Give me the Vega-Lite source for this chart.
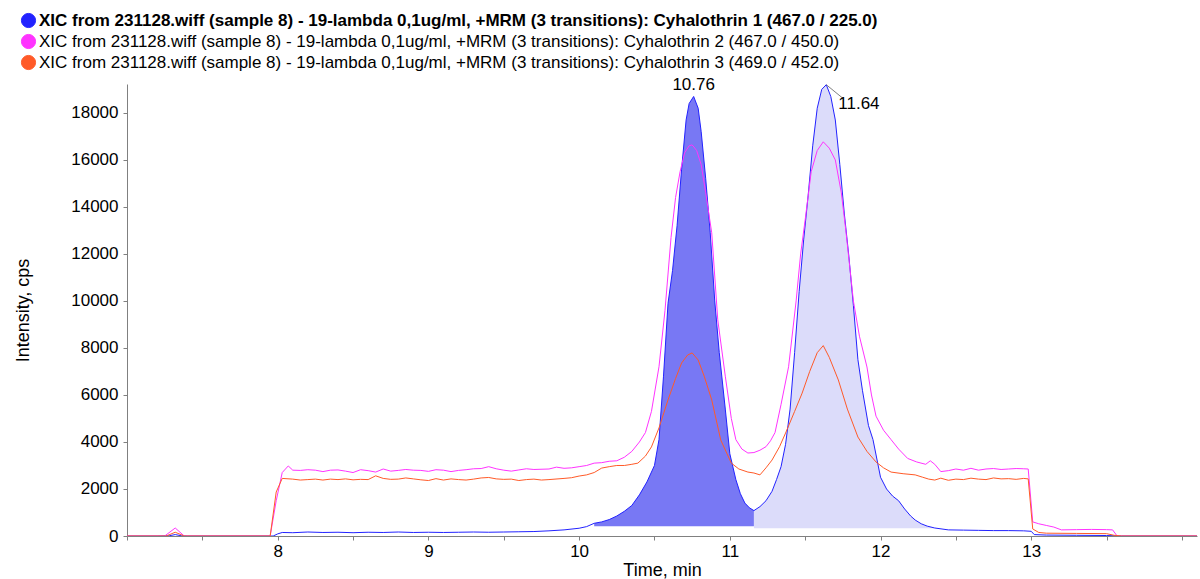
{
  "$schema": "https://vega.github.io/schema/vega-lite/v6.json",
  "autosize": "none",
  "width": 1070,
  "height": 452,
  "padding": {"left": 127, "top": 84, "right": 3, "bottom": 43},
  "background": "white",
  "config": {
    "view": {"stroke": null},
    "font": "Liberation Sans",
    "axis": {"labelFont": "Liberation Sans", "titleFont": "Liberation Sans", "labelColor": "black", "titleColor": "black", "domainColor": "#808080", "tickColor": "#808080", "grid": false, "titleFontWeight": "normal"}
  },
  "datasets": {
    "traces": [
      {"t": 7.00, "v": 0, "s": "XIC from 231128.wiff (sample 8) - 19-lambda 0,1ug/ml, +MRM (3 transitions): Cyhalothrin 1 (467.0 / 225.0)"},
      {"t": 7.20, "v": 0, "s": "XIC from 231128.wiff (sample 8) - 19-lambda 0,1ug/ml, +MRM (3 transitions): Cyhalothrin 1 (467.0 / 225.0)"},
      {"t": 7.28, "v": 10, "s": "XIC from 231128.wiff (sample 8) - 19-lambda 0,1ug/ml, +MRM (3 transitions): Cyhalothrin 1 (467.0 / 225.0)"},
      {"t": 7.32, "v": 60, "s": "XIC from 231128.wiff (sample 8) - 19-lambda 0,1ug/ml, +MRM (3 transitions): Cyhalothrin 1 (467.0 / 225.0)"},
      {"t": 7.36, "v": 10, "s": "XIC from 231128.wiff (sample 8) - 19-lambda 0,1ug/ml, +MRM (3 transitions): Cyhalothrin 1 (467.0 / 225.0)"},
      {"t": 7.40, "v": 0, "s": "XIC from 231128.wiff (sample 8) - 19-lambda 0,1ug/ml, +MRM (3 transitions): Cyhalothrin 1 (467.0 / 225.0)"},
      {"t": 7.97, "v": 0, "s": "XIC from 231128.wiff (sample 8) - 19-lambda 0,1ug/ml, +MRM (3 transitions): Cyhalothrin 1 (467.0 / 225.0)"},
      {"t": 8.00, "v": 90, "s": "XIC from 231128.wiff (sample 8) - 19-lambda 0,1ug/ml, +MRM (3 transitions): Cyhalothrin 1 (467.0 / 225.0)"},
      {"t": 8.03, "v": 150, "s": "XIC from 231128.wiff (sample 8) - 19-lambda 0,1ug/ml, +MRM (3 transitions): Cyhalothrin 1 (467.0 / 225.0)"},
      {"t": 8.10, "v": 140, "s": "XIC from 231128.wiff (sample 8) - 19-lambda 0,1ug/ml, +MRM (3 transitions): Cyhalothrin 1 (467.0 / 225.0)"},
      {"t": 8.20, "v": 170, "s": "XIC from 231128.wiff (sample 8) - 19-lambda 0,1ug/ml, +MRM (3 transitions): Cyhalothrin 1 (467.0 / 225.0)"},
      {"t": 8.30, "v": 150, "s": "XIC from 231128.wiff (sample 8) - 19-lambda 0,1ug/ml, +MRM (3 transitions): Cyhalothrin 1 (467.0 / 225.0)"},
      {"t": 8.40, "v": 160, "s": "XIC from 231128.wiff (sample 8) - 19-lambda 0,1ug/ml, +MRM (3 transitions): Cyhalothrin 1 (467.0 / 225.0)"},
      {"t": 8.50, "v": 140, "s": "XIC from 231128.wiff (sample 8) - 19-lambda 0,1ug/ml, +MRM (3 transitions): Cyhalothrin 1 (467.0 / 225.0)"},
      {"t": 8.60, "v": 160, "s": "XIC from 231128.wiff (sample 8) - 19-lambda 0,1ug/ml, +MRM (3 transitions): Cyhalothrin 1 (467.0 / 225.0)"},
      {"t": 8.70, "v": 150, "s": "XIC from 231128.wiff (sample 8) - 19-lambda 0,1ug/ml, +MRM (3 transitions): Cyhalothrin 1 (467.0 / 225.0)"},
      {"t": 8.80, "v": 170, "s": "XIC from 231128.wiff (sample 8) - 19-lambda 0,1ug/ml, +MRM (3 transitions): Cyhalothrin 1 (467.0 / 225.0)"},
      {"t": 8.90, "v": 150, "s": "XIC from 231128.wiff (sample 8) - 19-lambda 0,1ug/ml, +MRM (3 transitions): Cyhalothrin 1 (467.0 / 225.0)"},
      {"t": 9.00, "v": 160, "s": "XIC from 231128.wiff (sample 8) - 19-lambda 0,1ug/ml, +MRM (3 transitions): Cyhalothrin 1 (467.0 / 225.0)"},
      {"t": 9.10, "v": 150, "s": "XIC from 231128.wiff (sample 8) - 19-lambda 0,1ug/ml, +MRM (3 transitions): Cyhalothrin 1 (467.0 / 225.0)"},
      {"t": 9.20, "v": 160, "s": "XIC from 231128.wiff (sample 8) - 19-lambda 0,1ug/ml, +MRM (3 transitions): Cyhalothrin 1 (467.0 / 225.0)"},
      {"t": 9.30, "v": 170, "s": "XIC from 231128.wiff (sample 8) - 19-lambda 0,1ug/ml, +MRM (3 transitions): Cyhalothrin 1 (467.0 / 225.0)"},
      {"t": 9.40, "v": 160, "s": "XIC from 231128.wiff (sample 8) - 19-lambda 0,1ug/ml, +MRM (3 transitions): Cyhalothrin 1 (467.0 / 225.0)"},
      {"t": 9.50, "v": 170, "s": "XIC from 231128.wiff (sample 8) - 19-lambda 0,1ug/ml, +MRM (3 transitions): Cyhalothrin 1 (467.0 / 225.0)"},
      {"t": 9.60, "v": 180, "s": "XIC from 231128.wiff (sample 8) - 19-lambda 0,1ug/ml, +MRM (3 transitions): Cyhalothrin 1 (467.0 / 225.0)"},
      {"t": 9.70, "v": 190, "s": "XIC from 231128.wiff (sample 8) - 19-lambda 0,1ug/ml, +MRM (3 transitions): Cyhalothrin 1 (467.0 / 225.0)"},
      {"t": 9.80, "v": 220, "s": "XIC from 231128.wiff (sample 8) - 19-lambda 0,1ug/ml, +MRM (3 transitions): Cyhalothrin 1 (467.0 / 225.0)"},
      {"t": 9.90, "v": 260, "s": "XIC from 231128.wiff (sample 8) - 19-lambda 0,1ug/ml, +MRM (3 transitions): Cyhalothrin 1 (467.0 / 225.0)"},
      {"t": 10.00, "v": 330, "s": "XIC from 231128.wiff (sample 8) - 19-lambda 0,1ug/ml, +MRM (3 transitions): Cyhalothrin 1 (467.0 / 225.0)"},
      {"t": 10.05, "v": 400, "s": "XIC from 231128.wiff (sample 8) - 19-lambda 0,1ug/ml, +MRM (3 transitions): Cyhalothrin 1 (467.0 / 225.0)"},
      {"t": 10.10, "v": 540, "s": "XIC from 231128.wiff (sample 8) - 19-lambda 0,1ug/ml, +MRM (3 transitions): Cyhalothrin 1 (467.0 / 225.0)"},
      {"t": 10.15, "v": 600, "s": "XIC from 231128.wiff (sample 8) - 19-lambda 0,1ug/ml, +MRM (3 transitions): Cyhalothrin 1 (467.0 / 225.0)"},
      {"t": 10.20, "v": 700, "s": "XIC from 231128.wiff (sample 8) - 19-lambda 0,1ug/ml, +MRM (3 transitions): Cyhalothrin 1 (467.0 / 225.0)"},
      {"t": 10.25, "v": 850, "s": "XIC from 231128.wiff (sample 8) - 19-lambda 0,1ug/ml, +MRM (3 transitions): Cyhalothrin 1 (467.0 / 225.0)"},
      {"t": 10.30, "v": 1050, "s": "XIC from 231128.wiff (sample 8) - 19-lambda 0,1ug/ml, +MRM (3 transitions): Cyhalothrin 1 (467.0 / 225.0)"},
      {"t": 10.35, "v": 1300, "s": "XIC from 231128.wiff (sample 8) - 19-lambda 0,1ug/ml, +MRM (3 transitions): Cyhalothrin 1 (467.0 / 225.0)"},
      {"t": 10.40, "v": 1750, "s": "XIC from 231128.wiff (sample 8) - 19-lambda 0,1ug/ml, +MRM (3 transitions): Cyhalothrin 1 (467.0 / 225.0)"},
      {"t": 10.45, "v": 2300, "s": "XIC from 231128.wiff (sample 8) - 19-lambda 0,1ug/ml, +MRM (3 transitions): Cyhalothrin 1 (467.0 / 225.0)"},
      {"t": 10.50, "v": 3000, "s": "XIC from 231128.wiff (sample 8) - 19-lambda 0,1ug/ml, +MRM (3 transitions): Cyhalothrin 1 (467.0 / 225.0)"},
      {"t": 10.53, "v": 4100, "s": "XIC from 231128.wiff (sample 8) - 19-lambda 0,1ug/ml, +MRM (3 transitions): Cyhalothrin 1 (467.0 / 225.0)"},
      {"t": 10.56, "v": 6800, "s": "XIC from 231128.wiff (sample 8) - 19-lambda 0,1ug/ml, +MRM (3 transitions): Cyhalothrin 1 (467.0 / 225.0)"},
      {"t": 10.59, "v": 9900, "s": "XIC from 231128.wiff (sample 8) - 19-lambda 0,1ug/ml, +MRM (3 transitions): Cyhalothrin 1 (467.0 / 225.0)"},
      {"t": 10.62, "v": 11300, "s": "XIC from 231128.wiff (sample 8) - 19-lambda 0,1ug/ml, +MRM (3 transitions): Cyhalothrin 1 (467.0 / 225.0)"},
      {"t": 10.65, "v": 13200, "s": "XIC from 231128.wiff (sample 8) - 19-lambda 0,1ug/ml, +MRM (3 transitions): Cyhalothrin 1 (467.0 / 225.0)"},
      {"t": 10.68, "v": 15600, "s": "XIC from 231128.wiff (sample 8) - 19-lambda 0,1ug/ml, +MRM (3 transitions): Cyhalothrin 1 (467.0 / 225.0)"},
      {"t": 10.71, "v": 17700, "s": "XIC from 231128.wiff (sample 8) - 19-lambda 0,1ug/ml, +MRM (3 transitions): Cyhalothrin 1 (467.0 / 225.0)"},
      {"t": 10.73, "v": 18400, "s": "XIC from 231128.wiff (sample 8) - 19-lambda 0,1ug/ml, +MRM (3 transitions): Cyhalothrin 1 (467.0 / 225.0)"},
      {"t": 10.76, "v": 18700, "s": "XIC from 231128.wiff (sample 8) - 19-lambda 0,1ug/ml, +MRM (3 transitions): Cyhalothrin 1 (467.0 / 225.0)"},
      {"t": 10.79, "v": 18200, "s": "XIC from 231128.wiff (sample 8) - 19-lambda 0,1ug/ml, +MRM (3 transitions): Cyhalothrin 1 (467.0 / 225.0)"},
      {"t": 10.81, "v": 17200, "s": "XIC from 231128.wiff (sample 8) - 19-lambda 0,1ug/ml, +MRM (3 transitions): Cyhalothrin 1 (467.0 / 225.0)"},
      {"t": 10.84, "v": 15200, "s": "XIC from 231128.wiff (sample 8) - 19-lambda 0,1ug/ml, +MRM (3 transitions): Cyhalothrin 1 (467.0 / 225.0)"},
      {"t": 10.87, "v": 12900, "s": "XIC from 231128.wiff (sample 8) - 19-lambda 0,1ug/ml, +MRM (3 transitions): Cyhalothrin 1 (467.0 / 225.0)"},
      {"t": 10.90, "v": 10000, "s": "XIC from 231128.wiff (sample 8) - 19-lambda 0,1ug/ml, +MRM (3 transitions): Cyhalothrin 1 (467.0 / 225.0)"},
      {"t": 10.93, "v": 7800, "s": "XIC from 231128.wiff (sample 8) - 19-lambda 0,1ug/ml, +MRM (3 transitions): Cyhalothrin 1 (467.0 / 225.0)"},
      {"t": 10.97, "v": 5400, "s": "XIC from 231128.wiff (sample 8) - 19-lambda 0,1ug/ml, +MRM (3 transitions): Cyhalothrin 1 (467.0 / 225.0)"},
      {"t": 11.00, "v": 3500, "s": "XIC from 231128.wiff (sample 8) - 19-lambda 0,1ug/ml, +MRM (3 transitions): Cyhalothrin 1 (467.0 / 225.0)"},
      {"t": 11.04, "v": 2400, "s": "XIC from 231128.wiff (sample 8) - 19-lambda 0,1ug/ml, +MRM (3 transitions): Cyhalothrin 1 (467.0 / 225.0)"},
      {"t": 11.07, "v": 1800, "s": "XIC from 231128.wiff (sample 8) - 19-lambda 0,1ug/ml, +MRM (3 transitions): Cyhalothrin 1 (467.0 / 225.0)"},
      {"t": 11.10, "v": 1400, "s": "XIC from 231128.wiff (sample 8) - 19-lambda 0,1ug/ml, +MRM (3 transitions): Cyhalothrin 1 (467.0 / 225.0)"},
      {"t": 11.13, "v": 1200, "s": "XIC from 231128.wiff (sample 8) - 19-lambda 0,1ug/ml, +MRM (3 transitions): Cyhalothrin 1 (467.0 / 225.0)"},
      {"t": 11.16, "v": 1080, "s": "XIC from 231128.wiff (sample 8) - 19-lambda 0,1ug/ml, +MRM (3 transitions): Cyhalothrin 1 (467.0 / 225.0)"},
      {"t": 11.20, "v": 1250, "s": "XIC from 231128.wiff (sample 8) - 19-lambda 0,1ug/ml, +MRM (3 transitions): Cyhalothrin 1 (467.0 / 225.0)"},
      {"t": 11.24, "v": 1500, "s": "XIC from 231128.wiff (sample 8) - 19-lambda 0,1ug/ml, +MRM (3 transitions): Cyhalothrin 1 (467.0 / 225.0)"},
      {"t": 11.28, "v": 1900, "s": "XIC from 231128.wiff (sample 8) - 19-lambda 0,1ug/ml, +MRM (3 transitions): Cyhalothrin 1 (467.0 / 225.0)"},
      {"t": 11.31, "v": 2400, "s": "XIC from 231128.wiff (sample 8) - 19-lambda 0,1ug/ml, +MRM (3 transitions): Cyhalothrin 1 (467.0 / 225.0)"},
      {"t": 11.34, "v": 2950, "s": "XIC from 231128.wiff (sample 8) - 19-lambda 0,1ug/ml, +MRM (3 transitions): Cyhalothrin 1 (467.0 / 225.0)"},
      {"t": 11.37, "v": 3900, "s": "XIC from 231128.wiff (sample 8) - 19-lambda 0,1ug/ml, +MRM (3 transitions): Cyhalothrin 1 (467.0 / 225.0)"},
      {"t": 11.40, "v": 5400, "s": "XIC from 231128.wiff (sample 8) - 19-lambda 0,1ug/ml, +MRM (3 transitions): Cyhalothrin 1 (467.0 / 225.0)"},
      {"t": 11.43, "v": 7800, "s": "XIC from 231128.wiff (sample 8) - 19-lambda 0,1ug/ml, +MRM (3 transitions): Cyhalothrin 1 (467.0 / 225.0)"},
      {"t": 11.46, "v": 10400, "s": "XIC from 231128.wiff (sample 8) - 19-lambda 0,1ug/ml, +MRM (3 transitions): Cyhalothrin 1 (467.0 / 225.0)"},
      {"t": 11.49, "v": 12600, "s": "XIC from 231128.wiff (sample 8) - 19-lambda 0,1ug/ml, +MRM (3 transitions): Cyhalothrin 1 (467.0 / 225.0)"},
      {"t": 11.52, "v": 14500, "s": "XIC from 231128.wiff (sample 8) - 19-lambda 0,1ug/ml, +MRM (3 transitions): Cyhalothrin 1 (467.0 / 225.0)"},
      {"t": 11.55, "v": 16600, "s": "XIC from 231128.wiff (sample 8) - 19-lambda 0,1ug/ml, +MRM (3 transitions): Cyhalothrin 1 (467.0 / 225.0)"},
      {"t": 11.58, "v": 18200, "s": "XIC from 231128.wiff (sample 8) - 19-lambda 0,1ug/ml, +MRM (3 transitions): Cyhalothrin 1 (467.0 / 225.0)"},
      {"t": 11.61, "v": 19000, "s": "XIC from 231128.wiff (sample 8) - 19-lambda 0,1ug/ml, +MRM (3 transitions): Cyhalothrin 1 (467.0 / 225.0)"},
      {"t": 11.64, "v": 19200, "s": "XIC from 231128.wiff (sample 8) - 19-lambda 0,1ug/ml, +MRM (3 transitions): Cyhalothrin 1 (467.0 / 225.0)"},
      {"t": 11.67, "v": 18700, "s": "XIC from 231128.wiff (sample 8) - 19-lambda 0,1ug/ml, +MRM (3 transitions): Cyhalothrin 1 (467.0 / 225.0)"},
      {"t": 11.70, "v": 17700, "s": "XIC from 231128.wiff (sample 8) - 19-lambda 0,1ug/ml, +MRM (3 transitions): Cyhalothrin 1 (467.0 / 225.0)"},
      {"t": 11.73, "v": 15800, "s": "XIC from 231128.wiff (sample 8) - 19-lambda 0,1ug/ml, +MRM (3 transitions): Cyhalothrin 1 (467.0 / 225.0)"},
      {"t": 11.76, "v": 13700, "s": "XIC from 231128.wiff (sample 8) - 19-lambda 0,1ug/ml, +MRM (3 transitions): Cyhalothrin 1 (467.0 / 225.0)"},
      {"t": 11.79, "v": 11900, "s": "XIC from 231128.wiff (sample 8) - 19-lambda 0,1ug/ml, +MRM (3 transitions): Cyhalothrin 1 (467.0 / 225.0)"},
      {"t": 11.82, "v": 9800, "s": "XIC from 231128.wiff (sample 8) - 19-lambda 0,1ug/ml, +MRM (3 transitions): Cyhalothrin 1 (467.0 / 225.0)"},
      {"t": 11.85, "v": 7500, "s": "XIC from 231128.wiff (sample 8) - 19-lambda 0,1ug/ml, +MRM (3 transitions): Cyhalothrin 1 (467.0 / 225.0)"},
      {"t": 11.88, "v": 6200, "s": "XIC from 231128.wiff (sample 8) - 19-lambda 0,1ug/ml, +MRM (3 transitions): Cyhalothrin 1 (467.0 / 225.0)"},
      {"t": 11.92, "v": 4700, "s": "XIC from 231128.wiff (sample 8) - 19-lambda 0,1ug/ml, +MRM (3 transitions): Cyhalothrin 1 (467.0 / 225.0)"},
      {"t": 11.95, "v": 4100, "s": "XIC from 231128.wiff (sample 8) - 19-lambda 0,1ug/ml, +MRM (3 transitions): Cyhalothrin 1 (467.0 / 225.0)"},
      {"t": 12.00, "v": 2500, "s": "XIC from 231128.wiff (sample 8) - 19-lambda 0,1ug/ml, +MRM (3 transitions): Cyhalothrin 1 (467.0 / 225.0)"},
      {"t": 12.04, "v": 2000, "s": "XIC from 231128.wiff (sample 8) - 19-lambda 0,1ug/ml, +MRM (3 transitions): Cyhalothrin 1 (467.0 / 225.0)"},
      {"t": 12.08, "v": 1700, "s": "XIC from 231128.wiff (sample 8) - 19-lambda 0,1ug/ml, +MRM (3 transitions): Cyhalothrin 1 (467.0 / 225.0)"},
      {"t": 12.12, "v": 1500, "s": "XIC from 231128.wiff (sample 8) - 19-lambda 0,1ug/ml, +MRM (3 transitions): Cyhalothrin 1 (467.0 / 225.0)"},
      {"t": 12.16, "v": 1150, "s": "XIC from 231128.wiff (sample 8) - 19-lambda 0,1ug/ml, +MRM (3 transitions): Cyhalothrin 1 (467.0 / 225.0)"},
      {"t": 12.20, "v": 850, "s": "XIC from 231128.wiff (sample 8) - 19-lambda 0,1ug/ml, +MRM (3 transitions): Cyhalothrin 1 (467.0 / 225.0)"},
      {"t": 12.23, "v": 680, "s": "XIC from 231128.wiff (sample 8) - 19-lambda 0,1ug/ml, +MRM (3 transitions): Cyhalothrin 1 (467.0 / 225.0)"},
      {"t": 12.27, "v": 520, "s": "XIC from 231128.wiff (sample 8) - 19-lambda 0,1ug/ml, +MRM (3 transitions): Cyhalothrin 1 (467.0 / 225.0)"},
      {"t": 12.31, "v": 420, "s": "XIC from 231128.wiff (sample 8) - 19-lambda 0,1ug/ml, +MRM (3 transitions): Cyhalothrin 1 (467.0 / 225.0)"},
      {"t": 12.36, "v": 340, "s": "XIC from 231128.wiff (sample 8) - 19-lambda 0,1ug/ml, +MRM (3 transitions): Cyhalothrin 1 (467.0 / 225.0)"},
      {"t": 12.45, "v": 260, "s": "XIC from 231128.wiff (sample 8) - 19-lambda 0,1ug/ml, +MRM (3 transitions): Cyhalothrin 1 (467.0 / 225.0)"},
      {"t": 12.55, "v": 250, "s": "XIC from 231128.wiff (sample 8) - 19-lambda 0,1ug/ml, +MRM (3 transitions): Cyhalothrin 1 (467.0 / 225.0)"},
      {"t": 12.65, "v": 240, "s": "XIC from 231128.wiff (sample 8) - 19-lambda 0,1ug/ml, +MRM (3 transitions): Cyhalothrin 1 (467.0 / 225.0)"},
      {"t": 12.75, "v": 230, "s": "XIC from 231128.wiff (sample 8) - 19-lambda 0,1ug/ml, +MRM (3 transitions): Cyhalothrin 1 (467.0 / 225.0)"},
      {"t": 12.85, "v": 230, "s": "XIC from 231128.wiff (sample 8) - 19-lambda 0,1ug/ml, +MRM (3 transitions): Cyhalothrin 1 (467.0 / 225.0)"},
      {"t": 12.95, "v": 220, "s": "XIC from 231128.wiff (sample 8) - 19-lambda 0,1ug/ml, +MRM (3 transitions): Cyhalothrin 1 (467.0 / 225.0)"},
      {"t": 13.00, "v": 200, "s": "XIC from 231128.wiff (sample 8) - 19-lambda 0,1ug/ml, +MRM (3 transitions): Cyhalothrin 1 (467.0 / 225.0)"},
      {"t": 13.02, "v": 60, "s": "XIC from 231128.wiff (sample 8) - 19-lambda 0,1ug/ml, +MRM (3 transitions): Cyhalothrin 1 (467.0 / 225.0)"},
      {"t": 13.10, "v": 40, "s": "XIC from 231128.wiff (sample 8) - 19-lambda 0,1ug/ml, +MRM (3 transitions): Cyhalothrin 1 (467.0 / 225.0)"},
      {"t": 13.30, "v": 30, "s": "XIC from 231128.wiff (sample 8) - 19-lambda 0,1ug/ml, +MRM (3 transitions): Cyhalothrin 1 (467.0 / 225.0)"},
      {"t": 13.50, "v": 20, "s": "XIC from 231128.wiff (sample 8) - 19-lambda 0,1ug/ml, +MRM (3 transitions): Cyhalothrin 1 (467.0 / 225.0)"},
      {"t": 13.60, "v": 0, "s": "XIC from 231128.wiff (sample 8) - 19-lambda 0,1ug/ml, +MRM (3 transitions): Cyhalothrin 1 (467.0 / 225.0)"},
      {"t": 14.10, "v": 0, "s": "XIC from 231128.wiff (sample 8) - 19-lambda 0,1ug/ml, +MRM (3 transitions): Cyhalothrin 1 (467.0 / 225.0)"},

      {"t": 7.00, "v": 0, "s": "XIC from 231128.wiff (sample 8) - 19-lambda 0,1ug/ml, +MRM (3 transitions): Cyhalothrin 2 (467.0 / 450.0)"},
      {"t": 7.25, "v": 0, "s": "XIC from 231128.wiff (sample 8) - 19-lambda 0,1ug/ml, +MRM (3 transitions): Cyhalothrin 2 (467.0 / 450.0)"},
      {"t": 7.32, "v": 340, "s": "XIC from 231128.wiff (sample 8) - 19-lambda 0,1ug/ml, +MRM (3 transitions): Cyhalothrin 2 (467.0 / 450.0)"},
      {"t": 7.38, "v": 0, "s": "XIC from 231128.wiff (sample 8) - 19-lambda 0,1ug/ml, +MRM (3 transitions): Cyhalothrin 2 (467.0 / 450.0)"},
      {"t": 7.95, "v": 0, "s": "XIC from 231128.wiff (sample 8) - 19-lambda 0,1ug/ml, +MRM (3 transitions): Cyhalothrin 2 (467.0 / 450.0)"},
      {"t": 7.99, "v": 1500, "s": "XIC from 231128.wiff (sample 8) - 19-lambda 0,1ug/ml, +MRM (3 transitions): Cyhalothrin 2 (467.0 / 450.0)"},
      {"t": 8.03, "v": 2700, "s": "XIC from 231128.wiff (sample 8) - 19-lambda 0,1ug/ml, +MRM (3 transitions): Cyhalothrin 2 (467.0 / 450.0)"},
      {"t": 8.07, "v": 2980, "s": "XIC from 231128.wiff (sample 8) - 19-lambda 0,1ug/ml, +MRM (3 transitions): Cyhalothrin 2 (467.0 / 450.0)"},
      {"t": 8.10, "v": 2800, "s": "XIC from 231128.wiff (sample 8) - 19-lambda 0,1ug/ml, +MRM (3 transitions): Cyhalothrin 2 (467.0 / 450.0)"},
      {"t": 8.15, "v": 2790, "s": "XIC from 231128.wiff (sample 8) - 19-lambda 0,1ug/ml, +MRM (3 transitions): Cyhalothrin 2 (467.0 / 450.0)"},
      {"t": 8.20, "v": 2820, "s": "XIC from 231128.wiff (sample 8) - 19-lambda 0,1ug/ml, +MRM (3 transitions): Cyhalothrin 2 (467.0 / 450.0)"},
      {"t": 8.25, "v": 2800, "s": "XIC from 231128.wiff (sample 8) - 19-lambda 0,1ug/ml, +MRM (3 transitions): Cyhalothrin 2 (467.0 / 450.0)"},
      {"t": 8.30, "v": 2740, "s": "XIC from 231128.wiff (sample 8) - 19-lambda 0,1ug/ml, +MRM (3 transitions): Cyhalothrin 2 (467.0 / 450.0)"},
      {"t": 8.35, "v": 2800, "s": "XIC from 231128.wiff (sample 8) - 19-lambda 0,1ug/ml, +MRM (3 transitions): Cyhalothrin 2 (467.0 / 450.0)"},
      {"t": 8.40, "v": 2810, "s": "XIC from 231128.wiff (sample 8) - 19-lambda 0,1ug/ml, +MRM (3 transitions): Cyhalothrin 2 (467.0 / 450.0)"},
      {"t": 8.45, "v": 2760, "s": "XIC from 231128.wiff (sample 8) - 19-lambda 0,1ug/ml, +MRM (3 transitions): Cyhalothrin 2 (467.0 / 450.0)"},
      {"t": 8.50, "v": 2700, "s": "XIC from 231128.wiff (sample 8) - 19-lambda 0,1ug/ml, +MRM (3 transitions): Cyhalothrin 2 (467.0 / 450.0)"},
      {"t": 8.55, "v": 2820, "s": "XIC from 231128.wiff (sample 8) - 19-lambda 0,1ug/ml, +MRM (3 transitions): Cyhalothrin 2 (467.0 / 450.0)"},
      {"t": 8.60, "v": 2780, "s": "XIC from 231128.wiff (sample 8) - 19-lambda 0,1ug/ml, +MRM (3 transitions): Cyhalothrin 2 (467.0 / 450.0)"},
      {"t": 8.65, "v": 2720, "s": "XIC from 231128.wiff (sample 8) - 19-lambda 0,1ug/ml, +MRM (3 transitions): Cyhalothrin 2 (467.0 / 450.0)"},
      {"t": 8.70, "v": 2850, "s": "XIC from 231128.wiff (sample 8) - 19-lambda 0,1ug/ml, +MRM (3 transitions): Cyhalothrin 2 (467.0 / 450.0)"},
      {"t": 8.75, "v": 2760, "s": "XIC from 231128.wiff (sample 8) - 19-lambda 0,1ug/ml, +MRM (3 transitions): Cyhalothrin 2 (467.0 / 450.0)"},
      {"t": 8.80, "v": 2790, "s": "XIC from 231128.wiff (sample 8) - 19-lambda 0,1ug/ml, +MRM (3 transitions): Cyhalothrin 2 (467.0 / 450.0)"},
      {"t": 8.85, "v": 2830, "s": "XIC from 231128.wiff (sample 8) - 19-lambda 0,1ug/ml, +MRM (3 transitions): Cyhalothrin 2 (467.0 / 450.0)"},
      {"t": 8.90, "v": 2800, "s": "XIC from 231128.wiff (sample 8) - 19-lambda 0,1ug/ml, +MRM (3 transitions): Cyhalothrin 2 (467.0 / 450.0)"},
      {"t": 8.95, "v": 2790, "s": "XIC from 231128.wiff (sample 8) - 19-lambda 0,1ug/ml, +MRM (3 transitions): Cyhalothrin 2 (467.0 / 450.0)"},
      {"t": 9.00, "v": 2750, "s": "XIC from 231128.wiff (sample 8) - 19-lambda 0,1ug/ml, +MRM (3 transitions): Cyhalothrin 2 (467.0 / 450.0)"},
      {"t": 9.05, "v": 2820, "s": "XIC from 231128.wiff (sample 8) - 19-lambda 0,1ug/ml, +MRM (3 transitions): Cyhalothrin 2 (467.0 / 450.0)"},
      {"t": 9.10, "v": 2800, "s": "XIC from 231128.wiff (sample 8) - 19-lambda 0,1ug/ml, +MRM (3 transitions): Cyhalothrin 2 (467.0 / 450.0)"},
      {"t": 9.15, "v": 2740, "s": "XIC from 231128.wiff (sample 8) - 19-lambda 0,1ug/ml, +MRM (3 transitions): Cyhalothrin 2 (467.0 / 450.0)"},
      {"t": 9.20, "v": 2790, "s": "XIC from 231128.wiff (sample 8) - 19-lambda 0,1ug/ml, +MRM (3 transitions): Cyhalothrin 2 (467.0 / 450.0)"},
      {"t": 9.25, "v": 2820, "s": "XIC from 231128.wiff (sample 8) - 19-lambda 0,1ug/ml, +MRM (3 transitions): Cyhalothrin 2 (467.0 / 450.0)"},
      {"t": 9.30, "v": 2860, "s": "XIC from 231128.wiff (sample 8) - 19-lambda 0,1ug/ml, +MRM (3 transitions): Cyhalothrin 2 (467.0 / 450.0)"},
      {"t": 9.35, "v": 2870, "s": "XIC from 231128.wiff (sample 8) - 19-lambda 0,1ug/ml, +MRM (3 transitions): Cyhalothrin 2 (467.0 / 450.0)"},
      {"t": 9.40, "v": 2950, "s": "XIC from 231128.wiff (sample 8) - 19-lambda 0,1ug/ml, +MRM (3 transitions): Cyhalothrin 2 (467.0 / 450.0)"},
      {"t": 9.45, "v": 2860, "s": "XIC from 231128.wiff (sample 8) - 19-lambda 0,1ug/ml, +MRM (3 transitions): Cyhalothrin 2 (467.0 / 450.0)"},
      {"t": 9.50, "v": 2800, "s": "XIC from 231128.wiff (sample 8) - 19-lambda 0,1ug/ml, +MRM (3 transitions): Cyhalothrin 2 (467.0 / 450.0)"},
      {"t": 9.55, "v": 2760, "s": "XIC from 231128.wiff (sample 8) - 19-lambda 0,1ug/ml, +MRM (3 transitions): Cyhalothrin 2 (467.0 / 450.0)"},
      {"t": 9.60, "v": 2810, "s": "XIC from 231128.wiff (sample 8) - 19-lambda 0,1ug/ml, +MRM (3 transitions): Cyhalothrin 2 (467.0 / 450.0)"},
      {"t": 9.65, "v": 2860, "s": "XIC from 231128.wiff (sample 8) - 19-lambda 0,1ug/ml, +MRM (3 transitions): Cyhalothrin 2 (467.0 / 450.0)"},
      {"t": 9.70, "v": 2830, "s": "XIC from 231128.wiff (sample 8) - 19-lambda 0,1ug/ml, +MRM (3 transitions): Cyhalothrin 2 (467.0 / 450.0)"},
      {"t": 9.80, "v": 2850, "s": "XIC from 231128.wiff (sample 8) - 19-lambda 0,1ug/ml, +MRM (3 transitions): Cyhalothrin 2 (467.0 / 450.0)"},
      {"t": 9.85, "v": 2930, "s": "XIC from 231128.wiff (sample 8) - 19-lambda 0,1ug/ml, +MRM (3 transitions): Cyhalothrin 2 (467.0 / 450.0)"},
      {"t": 9.90, "v": 2880, "s": "XIC from 231128.wiff (sample 8) - 19-lambda 0,1ug/ml, +MRM (3 transitions): Cyhalothrin 2 (467.0 / 450.0)"},
      {"t": 9.95, "v": 2900, "s": "XIC from 231128.wiff (sample 8) - 19-lambda 0,1ug/ml, +MRM (3 transitions): Cyhalothrin 2 (467.0 / 450.0)"},
      {"t": 10.00, "v": 2950, "s": "XIC from 231128.wiff (sample 8) - 19-lambda 0,1ug/ml, +MRM (3 transitions): Cyhalothrin 2 (467.0 / 450.0)"},
      {"t": 10.05, "v": 3000, "s": "XIC from 231128.wiff (sample 8) - 19-lambda 0,1ug/ml, +MRM (3 transitions): Cyhalothrin 2 (467.0 / 450.0)"},
      {"t": 10.10, "v": 3100, "s": "XIC from 231128.wiff (sample 8) - 19-lambda 0,1ug/ml, +MRM (3 transitions): Cyhalothrin 2 (467.0 / 450.0)"},
      {"t": 10.15, "v": 3120, "s": "XIC from 231128.wiff (sample 8) - 19-lambda 0,1ug/ml, +MRM (3 transitions): Cyhalothrin 2 (467.0 / 450.0)"},
      {"t": 10.20, "v": 3180, "s": "XIC from 231128.wiff (sample 8) - 19-lambda 0,1ug/ml, +MRM (3 transitions): Cyhalothrin 2 (467.0 / 450.0)"},
      {"t": 10.25, "v": 3200, "s": "XIC from 231128.wiff (sample 8) - 19-lambda 0,1ug/ml, +MRM (3 transitions): Cyhalothrin 2 (467.0 / 450.0)"},
      {"t": 10.30, "v": 3350, "s": "XIC from 231128.wiff (sample 8) - 19-lambda 0,1ug/ml, +MRM (3 transitions): Cyhalothrin 2 (467.0 / 450.0)"},
      {"t": 10.35, "v": 3600, "s": "XIC from 231128.wiff (sample 8) - 19-lambda 0,1ug/ml, +MRM (3 transitions): Cyhalothrin 2 (467.0 / 450.0)"},
      {"t": 10.40, "v": 4000, "s": "XIC from 231128.wiff (sample 8) - 19-lambda 0,1ug/ml, +MRM (3 transitions): Cyhalothrin 2 (467.0 / 450.0)"},
      {"t": 10.44, "v": 4400, "s": "XIC from 231128.wiff (sample 8) - 19-lambda 0,1ug/ml, +MRM (3 transitions): Cyhalothrin 2 (467.0 / 450.0)"},
      {"t": 10.48, "v": 5300, "s": "XIC from 231128.wiff (sample 8) - 19-lambda 0,1ug/ml, +MRM (3 transitions): Cyhalothrin 2 (467.0 / 450.0)"},
      {"t": 10.53, "v": 7200, "s": "XIC from 231128.wiff (sample 8) - 19-lambda 0,1ug/ml, +MRM (3 transitions): Cyhalothrin 2 (467.0 / 450.0)"},
      {"t": 10.57, "v": 9600, "s": "XIC from 231128.wiff (sample 8) - 19-lambda 0,1ug/ml, +MRM (3 transitions): Cyhalothrin 2 (467.0 / 450.0)"},
      {"t": 10.61, "v": 12700, "s": "XIC from 231128.wiff (sample 8) - 19-lambda 0,1ug/ml, +MRM (3 transitions): Cyhalothrin 2 (467.0 / 450.0)"},
      {"t": 10.64, "v": 14400, "s": "XIC from 231128.wiff (sample 8) - 19-lambda 0,1ug/ml, +MRM (3 transitions): Cyhalothrin 2 (467.0 / 450.0)"},
      {"t": 10.67, "v": 15500, "s": "XIC from 231128.wiff (sample 8) - 19-lambda 0,1ug/ml, +MRM (3 transitions): Cyhalothrin 2 (467.0 / 450.0)"},
      {"t": 10.70, "v": 16300, "s": "XIC from 231128.wiff (sample 8) - 19-lambda 0,1ug/ml, +MRM (3 transitions): Cyhalothrin 2 (467.0 / 450.0)"},
      {"t": 10.73, "v": 16600, "s": "XIC from 231128.wiff (sample 8) - 19-lambda 0,1ug/ml, +MRM (3 transitions): Cyhalothrin 2 (467.0 / 450.0)"},
      {"t": 10.75, "v": 16640, "s": "XIC from 231128.wiff (sample 8) - 19-lambda 0,1ug/ml, +MRM (3 transitions): Cyhalothrin 2 (467.0 / 450.0)"},
      {"t": 10.78, "v": 16400, "s": "XIC from 231128.wiff (sample 8) - 19-lambda 0,1ug/ml, +MRM (3 transitions): Cyhalothrin 2 (467.0 / 450.0)"},
      {"t": 10.81, "v": 15800, "s": "XIC from 231128.wiff (sample 8) - 19-lambda 0,1ug/ml, +MRM (3 transitions): Cyhalothrin 2 (467.0 / 450.0)"},
      {"t": 10.84, "v": 14600, "s": "XIC from 231128.wiff (sample 8) - 19-lambda 0,1ug/ml, +MRM (3 transitions): Cyhalothrin 2 (467.0 / 450.0)"},
      {"t": 10.88, "v": 12900, "s": "XIC from 231128.wiff (sample 8) - 19-lambda 0,1ug/ml, +MRM (3 transitions): Cyhalothrin 2 (467.0 / 450.0)"},
      {"t": 10.92, "v": 9200, "s": "XIC from 231128.wiff (sample 8) - 19-lambda 0,1ug/ml, +MRM (3 transitions): Cyhalothrin 2 (467.0 / 450.0)"},
      {"t": 10.97, "v": 6800, "s": "XIC from 231128.wiff (sample 8) - 19-lambda 0,1ug/ml, +MRM (3 transitions): Cyhalothrin 2 (467.0 / 450.0)"},
      {"t": 11.01, "v": 5000, "s": "XIC from 231128.wiff (sample 8) - 19-lambda 0,1ug/ml, +MRM (3 transitions): Cyhalothrin 2 (467.0 / 450.0)"},
      {"t": 11.04, "v": 4100, "s": "XIC from 231128.wiff (sample 8) - 19-lambda 0,1ug/ml, +MRM (3 transitions): Cyhalothrin 2 (467.0 / 450.0)"},
      {"t": 11.08, "v": 3700, "s": "XIC from 231128.wiff (sample 8) - 19-lambda 0,1ug/ml, +MRM (3 transitions): Cyhalothrin 2 (467.0 / 450.0)"},
      {"t": 11.12, "v": 3530, "s": "XIC from 231128.wiff (sample 8) - 19-lambda 0,1ug/ml, +MRM (3 transitions): Cyhalothrin 2 (467.0 / 450.0)"},
      {"t": 11.16, "v": 3550, "s": "XIC from 231128.wiff (sample 8) - 19-lambda 0,1ug/ml, +MRM (3 transitions): Cyhalothrin 2 (467.0 / 450.0)"},
      {"t": 11.20, "v": 3650, "s": "XIC from 231128.wiff (sample 8) - 19-lambda 0,1ug/ml, +MRM (3 transitions): Cyhalothrin 2 (467.0 / 450.0)"},
      {"t": 11.24, "v": 3800, "s": "XIC from 231128.wiff (sample 8) - 19-lambda 0,1ug/ml, +MRM (3 transitions): Cyhalothrin 2 (467.0 / 450.0)"},
      {"t": 11.27, "v": 4050, "s": "XIC from 231128.wiff (sample 8) - 19-lambda 0,1ug/ml, +MRM (3 transitions): Cyhalothrin 2 (467.0 / 450.0)"},
      {"t": 11.30, "v": 4400, "s": "XIC from 231128.wiff (sample 8) - 19-lambda 0,1ug/ml, +MRM (3 transitions): Cyhalothrin 2 (467.0 / 450.0)"},
      {"t": 11.34, "v": 5600, "s": "XIC from 231128.wiff (sample 8) - 19-lambda 0,1ug/ml, +MRM (3 transitions): Cyhalothrin 2 (467.0 / 450.0)"},
      {"t": 11.39, "v": 7200, "s": "XIC from 231128.wiff (sample 8) - 19-lambda 0,1ug/ml, +MRM (3 transitions): Cyhalothrin 2 (467.0 / 450.0)"},
      {"t": 11.44, "v": 10000, "s": "XIC from 231128.wiff (sample 8) - 19-lambda 0,1ug/ml, +MRM (3 transitions): Cyhalothrin 2 (467.0 / 450.0)"},
      {"t": 11.47, "v": 12000, "s": "XIC from 231128.wiff (sample 8) - 19-lambda 0,1ug/ml, +MRM (3 transitions): Cyhalothrin 2 (467.0 / 450.0)"},
      {"t": 11.50, "v": 13450, "s": "XIC from 231128.wiff (sample 8) - 19-lambda 0,1ug/ml, +MRM (3 transitions): Cyhalothrin 2 (467.0 / 450.0)"},
      {"t": 11.54, "v": 15500, "s": "XIC from 231128.wiff (sample 8) - 19-lambda 0,1ug/ml, +MRM (3 transitions): Cyhalothrin 2 (467.0 / 450.0)"},
      {"t": 11.58, "v": 16400, "s": "XIC from 231128.wiff (sample 8) - 19-lambda 0,1ug/ml, +MRM (3 transitions): Cyhalothrin 2 (467.0 / 450.0)"},
      {"t": 11.62, "v": 16770, "s": "XIC from 231128.wiff (sample 8) - 19-lambda 0,1ug/ml, +MRM (3 transitions): Cyhalothrin 2 (467.0 / 450.0)"},
      {"t": 11.66, "v": 16500, "s": "XIC from 231128.wiff (sample 8) - 19-lambda 0,1ug/ml, +MRM (3 transitions): Cyhalothrin 2 (467.0 / 450.0)"},
      {"t": 11.70, "v": 16000, "s": "XIC from 231128.wiff (sample 8) - 19-lambda 0,1ug/ml, +MRM (3 transitions): Cyhalothrin 2 (467.0 / 450.0)"},
      {"t": 11.74, "v": 14600, "s": "XIC from 231128.wiff (sample 8) - 19-lambda 0,1ug/ml, +MRM (3 transitions): Cyhalothrin 2 (467.0 / 450.0)"},
      {"t": 11.77, "v": 13000, "s": "XIC from 231128.wiff (sample 8) - 19-lambda 0,1ug/ml, +MRM (3 transitions): Cyhalothrin 2 (467.0 / 450.0)"},
      {"t": 11.82, "v": 10000, "s": "XIC from 231128.wiff (sample 8) - 19-lambda 0,1ug/ml, +MRM (3 transitions): Cyhalothrin 2 (467.0 / 450.0)"},
      {"t": 11.86, "v": 8500, "s": "XIC from 231128.wiff (sample 8) - 19-lambda 0,1ug/ml, +MRM (3 transitions): Cyhalothrin 2 (467.0 / 450.0)"},
      {"t": 11.91, "v": 7190, "s": "XIC from 231128.wiff (sample 8) - 19-lambda 0,1ug/ml, +MRM (3 transitions): Cyhalothrin 2 (467.0 / 450.0)"},
      {"t": 11.94, "v": 6000, "s": "XIC from 231128.wiff (sample 8) - 19-lambda 0,1ug/ml, +MRM (3 transitions): Cyhalothrin 2 (467.0 / 450.0)"},
      {"t": 11.97, "v": 5100, "s": "XIC from 231128.wiff (sample 8) - 19-lambda 0,1ug/ml, +MRM (3 transitions): Cyhalothrin 2 (467.0 / 450.0)"},
      {"t": 12.02, "v": 4500, "s": "XIC from 231128.wiff (sample 8) - 19-lambda 0,1ug/ml, +MRM (3 transitions): Cyhalothrin 2 (467.0 / 450.0)"},
      {"t": 12.07, "v": 4100, "s": "XIC from 231128.wiff (sample 8) - 19-lambda 0,1ug/ml, +MRM (3 transitions): Cyhalothrin 2 (467.0 / 450.0)"},
      {"t": 12.12, "v": 3700, "s": "XIC from 231128.wiff (sample 8) - 19-lambda 0,1ug/ml, +MRM (3 transitions): Cyhalothrin 2 (467.0 / 450.0)"},
      {"t": 12.18, "v": 3300, "s": "XIC from 231128.wiff (sample 8) - 19-lambda 0,1ug/ml, +MRM (3 transitions): Cyhalothrin 2 (467.0 / 450.0)"},
      {"t": 12.24, "v": 3150, "s": "XIC from 231128.wiff (sample 8) - 19-lambda 0,1ug/ml, +MRM (3 transitions): Cyhalothrin 2 (467.0 / 450.0)"},
      {"t": 12.30, "v": 3050, "s": "XIC from 231128.wiff (sample 8) - 19-lambda 0,1ug/ml, +MRM (3 transitions): Cyhalothrin 2 (467.0 / 450.0)"},
      {"t": 12.33, "v": 3200, "s": "XIC from 231128.wiff (sample 8) - 19-lambda 0,1ug/ml, +MRM (3 transitions): Cyhalothrin 2 (467.0 / 450.0)"},
      {"t": 12.36, "v": 3050, "s": "XIC from 231128.wiff (sample 8) - 19-lambda 0,1ug/ml, +MRM (3 transitions): Cyhalothrin 2 (467.0 / 450.0)"},
      {"t": 12.40, "v": 2740, "s": "XIC from 231128.wiff (sample 8) - 19-lambda 0,1ug/ml, +MRM (3 transitions): Cyhalothrin 2 (467.0 / 450.0)"},
      {"t": 12.45, "v": 2780, "s": "XIC from 231128.wiff (sample 8) - 19-lambda 0,1ug/ml, +MRM (3 transitions): Cyhalothrin 2 (467.0 / 450.0)"},
      {"t": 12.50, "v": 2850, "s": "XIC from 231128.wiff (sample 8) - 19-lambda 0,1ug/ml, +MRM (3 transitions): Cyhalothrin 2 (467.0 / 450.0)"},
      {"t": 12.55, "v": 2800, "s": "XIC from 231128.wiff (sample 8) - 19-lambda 0,1ug/ml, +MRM (3 transitions): Cyhalothrin 2 (467.0 / 450.0)"},
      {"t": 12.60, "v": 2880, "s": "XIC from 231128.wiff (sample 8) - 19-lambda 0,1ug/ml, +MRM (3 transitions): Cyhalothrin 2 (467.0 / 450.0)"},
      {"t": 12.65, "v": 2800, "s": "XIC from 231128.wiff (sample 8) - 19-lambda 0,1ug/ml, +MRM (3 transitions): Cyhalothrin 2 (467.0 / 450.0)"},
      {"t": 12.70, "v": 2850, "s": "XIC from 231128.wiff (sample 8) - 19-lambda 0,1ug/ml, +MRM (3 transitions): Cyhalothrin 2 (467.0 / 450.0)"},
      {"t": 12.75, "v": 2870, "s": "XIC from 231128.wiff (sample 8) - 19-lambda 0,1ug/ml, +MRM (3 transitions): Cyhalothrin 2 (467.0 / 450.0)"},
      {"t": 12.80, "v": 2830, "s": "XIC from 231128.wiff (sample 8) - 19-lambda 0,1ug/ml, +MRM (3 transitions): Cyhalothrin 2 (467.0 / 450.0)"},
      {"t": 12.85, "v": 2850, "s": "XIC from 231128.wiff (sample 8) - 19-lambda 0,1ug/ml, +MRM (3 transitions): Cyhalothrin 2 (467.0 / 450.0)"},
      {"t": 12.90, "v": 2870, "s": "XIC from 231128.wiff (sample 8) - 19-lambda 0,1ug/ml, +MRM (3 transitions): Cyhalothrin 2 (467.0 / 450.0)"},
      {"t": 12.95, "v": 2860, "s": "XIC from 231128.wiff (sample 8) - 19-lambda 0,1ug/ml, +MRM (3 transitions): Cyhalothrin 2 (467.0 / 450.0)"},
      {"t": 12.98, "v": 2850, "s": "XIC from 231128.wiff (sample 8) - 19-lambda 0,1ug/ml, +MRM (3 transitions): Cyhalothrin 2 (467.0 / 450.0)"},
      {"t": 13.01, "v": 600, "s": "XIC from 231128.wiff (sample 8) - 19-lambda 0,1ug/ml, +MRM (3 transitions): Cyhalothrin 2 (467.0 / 450.0)"},
      {"t": 13.05, "v": 520, "s": "XIC from 231128.wiff (sample 8) - 19-lambda 0,1ug/ml, +MRM (3 transitions): Cyhalothrin 2 (467.0 / 450.0)"},
      {"t": 13.10, "v": 450, "s": "XIC from 231128.wiff (sample 8) - 19-lambda 0,1ug/ml, +MRM (3 transitions): Cyhalothrin 2 (467.0 / 450.0)"},
      {"t": 13.15, "v": 380, "s": "XIC from 231128.wiff (sample 8) - 19-lambda 0,1ug/ml, +MRM (3 transitions): Cyhalothrin 2 (467.0 / 450.0)"},
      {"t": 13.20, "v": 260, "s": "XIC from 231128.wiff (sample 8) - 19-lambda 0,1ug/ml, +MRM (3 transitions): Cyhalothrin 2 (467.0 / 450.0)"},
      {"t": 13.30, "v": 270, "s": "XIC from 231128.wiff (sample 8) - 19-lambda 0,1ug/ml, +MRM (3 transitions): Cyhalothrin 2 (467.0 / 450.0)"},
      {"t": 13.40, "v": 280, "s": "XIC from 231128.wiff (sample 8) - 19-lambda 0,1ug/ml, +MRM (3 transitions): Cyhalothrin 2 (467.0 / 450.0)"},
      {"t": 13.50, "v": 270, "s": "XIC from 231128.wiff (sample 8) - 19-lambda 0,1ug/ml, +MRM (3 transitions): Cyhalothrin 2 (467.0 / 450.0)"},
      {"t": 13.54, "v": 260, "s": "XIC from 231128.wiff (sample 8) - 19-lambda 0,1ug/ml, +MRM (3 transitions): Cyhalothrin 2 (467.0 / 450.0)"},
      {"t": 13.57, "v": 0, "s": "XIC from 231128.wiff (sample 8) - 19-lambda 0,1ug/ml, +MRM (3 transitions): Cyhalothrin 2 (467.0 / 450.0)"},
      {"t": 14.10, "v": 0, "s": "XIC from 231128.wiff (sample 8) - 19-lambda 0,1ug/ml, +MRM (3 transitions): Cyhalothrin 2 (467.0 / 450.0)"},

      {"t": 7.00, "v": 0, "s": "XIC from 231128.wiff (sample 8) - 19-lambda 0,1ug/ml, +MRM (3 transitions): Cyhalothrin 3 (469.0 / 452.0)"},
      {"t": 7.26, "v": 0, "s": "XIC from 231128.wiff (sample 8) - 19-lambda 0,1ug/ml, +MRM (3 transitions): Cyhalothrin 3 (469.0 / 452.0)"},
      {"t": 7.32, "v": 160, "s": "XIC from 231128.wiff (sample 8) - 19-lambda 0,1ug/ml, +MRM (3 transitions): Cyhalothrin 3 (469.0 / 452.0)"},
      {"t": 7.38, "v": 0, "s": "XIC from 231128.wiff (sample 8) - 19-lambda 0,1ug/ml, +MRM (3 transitions): Cyhalothrin 3 (469.0 / 452.0)"},
      {"t": 7.95, "v": 0, "s": "XIC from 231128.wiff (sample 8) - 19-lambda 0,1ug/ml, +MRM (3 transitions): Cyhalothrin 3 (469.0 / 452.0)"},
      {"t": 7.99, "v": 1870, "s": "XIC from 231128.wiff (sample 8) - 19-lambda 0,1ug/ml, +MRM (3 transitions): Cyhalothrin 3 (469.0 / 452.0)"},
      {"t": 8.03, "v": 2450, "s": "XIC from 231128.wiff (sample 8) - 19-lambda 0,1ug/ml, +MRM (3 transitions): Cyhalothrin 3 (469.0 / 452.0)"},
      {"t": 8.10, "v": 2420, "s": "XIC from 231128.wiff (sample 8) - 19-lambda 0,1ug/ml, +MRM (3 transitions): Cyhalothrin 3 (469.0 / 452.0)"},
      {"t": 8.15, "v": 2380, "s": "XIC from 231128.wiff (sample 8) - 19-lambda 0,1ug/ml, +MRM (3 transitions): Cyhalothrin 3 (469.0 / 452.0)"},
      {"t": 8.20, "v": 2400, "s": "XIC from 231128.wiff (sample 8) - 19-lambda 0,1ug/ml, +MRM (3 transitions): Cyhalothrin 3 (469.0 / 452.0)"},
      {"t": 8.25, "v": 2420, "s": "XIC from 231128.wiff (sample 8) - 19-lambda 0,1ug/ml, +MRM (3 transitions): Cyhalothrin 3 (469.0 / 452.0)"},
      {"t": 8.30, "v": 2380, "s": "XIC from 231128.wiff (sample 8) - 19-lambda 0,1ug/ml, +MRM (3 transitions): Cyhalothrin 3 (469.0 / 452.0)"},
      {"t": 8.35, "v": 2420, "s": "XIC from 231128.wiff (sample 8) - 19-lambda 0,1ug/ml, +MRM (3 transitions): Cyhalothrin 3 (469.0 / 452.0)"},
      {"t": 8.40, "v": 2400, "s": "XIC from 231128.wiff (sample 8) - 19-lambda 0,1ug/ml, +MRM (3 transitions): Cyhalothrin 3 (469.0 / 452.0)"},
      {"t": 8.45, "v": 2430, "s": "XIC from 231128.wiff (sample 8) - 19-lambda 0,1ug/ml, +MRM (3 transitions): Cyhalothrin 3 (469.0 / 452.0)"},
      {"t": 8.50, "v": 2390, "s": "XIC from 231128.wiff (sample 8) - 19-lambda 0,1ug/ml, +MRM (3 transitions): Cyhalothrin 3 (469.0 / 452.0)"},
      {"t": 8.55, "v": 2410, "s": "XIC from 231128.wiff (sample 8) - 19-lambda 0,1ug/ml, +MRM (3 transitions): Cyhalothrin 3 (469.0 / 452.0)"},
      {"t": 8.60, "v": 2400, "s": "XIC from 231128.wiff (sample 8) - 19-lambda 0,1ug/ml, +MRM (3 transitions): Cyhalothrin 3 (469.0 / 452.0)"},
      {"t": 8.65, "v": 2560, "s": "XIC from 231128.wiff (sample 8) - 19-lambda 0,1ug/ml, +MRM (3 transitions): Cyhalothrin 3 (469.0 / 452.0)"},
      {"t": 8.70, "v": 2450, "s": "XIC from 231128.wiff (sample 8) - 19-lambda 0,1ug/ml, +MRM (3 transitions): Cyhalothrin 3 (469.0 / 452.0)"},
      {"t": 8.75, "v": 2410, "s": "XIC from 231128.wiff (sample 8) - 19-lambda 0,1ug/ml, +MRM (3 transitions): Cyhalothrin 3 (469.0 / 452.0)"},
      {"t": 8.80, "v": 2420, "s": "XIC from 231128.wiff (sample 8) - 19-lambda 0,1ug/ml, +MRM (3 transitions): Cyhalothrin 3 (469.0 / 452.0)"},
      {"t": 8.85, "v": 2470, "s": "XIC from 231128.wiff (sample 8) - 19-lambda 0,1ug/ml, +MRM (3 transitions): Cyhalothrin 3 (469.0 / 452.0)"},
      {"t": 8.90, "v": 2430, "s": "XIC from 231128.wiff (sample 8) - 19-lambda 0,1ug/ml, +MRM (3 transitions): Cyhalothrin 3 (469.0 / 452.0)"},
      {"t": 8.95, "v": 2390, "s": "XIC from 231128.wiff (sample 8) - 19-lambda 0,1ug/ml, +MRM (3 transitions): Cyhalothrin 3 (469.0 / 452.0)"},
      {"t": 9.00, "v": 2360, "s": "XIC from 231128.wiff (sample 8) - 19-lambda 0,1ug/ml, +MRM (3 transitions): Cyhalothrin 3 (469.0 / 452.0)"},
      {"t": 9.05, "v": 2440, "s": "XIC from 231128.wiff (sample 8) - 19-lambda 0,1ug/ml, +MRM (3 transitions): Cyhalothrin 3 (469.0 / 452.0)"},
      {"t": 9.10, "v": 2380, "s": "XIC from 231128.wiff (sample 8) - 19-lambda 0,1ug/ml, +MRM (3 transitions): Cyhalothrin 3 (469.0 / 452.0)"},
      {"t": 9.15, "v": 2430, "s": "XIC from 231128.wiff (sample 8) - 19-lambda 0,1ug/ml, +MRM (3 transitions): Cyhalothrin 3 (469.0 / 452.0)"},
      {"t": 9.20, "v": 2400, "s": "XIC from 231128.wiff (sample 8) - 19-lambda 0,1ug/ml, +MRM (3 transitions): Cyhalothrin 3 (469.0 / 452.0)"},
      {"t": 9.25, "v": 2380, "s": "XIC from 231128.wiff (sample 8) - 19-lambda 0,1ug/ml, +MRM (3 transitions): Cyhalothrin 3 (469.0 / 452.0)"},
      {"t": 9.30, "v": 2420, "s": "XIC from 231128.wiff (sample 8) - 19-lambda 0,1ug/ml, +MRM (3 transitions): Cyhalothrin 3 (469.0 / 452.0)"},
      {"t": 9.35, "v": 2470, "s": "XIC from 231128.wiff (sample 8) - 19-lambda 0,1ug/ml, +MRM (3 transitions): Cyhalothrin 3 (469.0 / 452.0)"},
      {"t": 9.40, "v": 2490, "s": "XIC from 231128.wiff (sample 8) - 19-lambda 0,1ug/ml, +MRM (3 transitions): Cyhalothrin 3 (469.0 / 452.0)"},
      {"t": 9.45, "v": 2430, "s": "XIC from 231128.wiff (sample 8) - 19-lambda 0,1ug/ml, +MRM (3 transitions): Cyhalothrin 3 (469.0 / 452.0)"},
      {"t": 9.50, "v": 2410, "s": "XIC from 231128.wiff (sample 8) - 19-lambda 0,1ug/ml, +MRM (3 transitions): Cyhalothrin 3 (469.0 / 452.0)"},
      {"t": 9.55, "v": 2420, "s": "XIC from 231128.wiff (sample 8) - 19-lambda 0,1ug/ml, +MRM (3 transitions): Cyhalothrin 3 (469.0 / 452.0)"},
      {"t": 9.60, "v": 2360, "s": "XIC from 231128.wiff (sample 8) - 19-lambda 0,1ug/ml, +MRM (3 transitions): Cyhalothrin 3 (469.0 / 452.0)"},
      {"t": 9.65, "v": 2400, "s": "XIC from 231128.wiff (sample 8) - 19-lambda 0,1ug/ml, +MRM (3 transitions): Cyhalothrin 3 (469.0 / 452.0)"},
      {"t": 9.70, "v": 2420, "s": "XIC from 231128.wiff (sample 8) - 19-lambda 0,1ug/ml, +MRM (3 transitions): Cyhalothrin 3 (469.0 / 452.0)"},
      {"t": 9.75, "v": 2380, "s": "XIC from 231128.wiff (sample 8) - 19-lambda 0,1ug/ml, +MRM (3 transitions): Cyhalothrin 3 (469.0 / 452.0)"},
      {"t": 9.80, "v": 2400, "s": "XIC from 231128.wiff (sample 8) - 19-lambda 0,1ug/ml, +MRM (3 transitions): Cyhalothrin 3 (469.0 / 452.0)"},
      {"t": 9.86, "v": 2430, "s": "XIC from 231128.wiff (sample 8) - 19-lambda 0,1ug/ml, +MRM (3 transitions): Cyhalothrin 3 (469.0 / 452.0)"},
      {"t": 9.90, "v": 2450, "s": "XIC from 231128.wiff (sample 8) - 19-lambda 0,1ug/ml, +MRM (3 transitions): Cyhalothrin 3 (469.0 / 452.0)"},
      {"t": 9.95, "v": 2480, "s": "XIC from 231128.wiff (sample 8) - 19-lambda 0,1ug/ml, +MRM (3 transitions): Cyhalothrin 3 (469.0 / 452.0)"},
      {"t": 10.00, "v": 2550, "s": "XIC from 231128.wiff (sample 8) - 19-lambda 0,1ug/ml, +MRM (3 transitions): Cyhalothrin 3 (469.0 / 452.0)"},
      {"t": 10.05, "v": 2600, "s": "XIC from 231128.wiff (sample 8) - 19-lambda 0,1ug/ml, +MRM (3 transitions): Cyhalothrin 3 (469.0 / 452.0)"},
      {"t": 10.10, "v": 2700, "s": "XIC from 231128.wiff (sample 8) - 19-lambda 0,1ug/ml, +MRM (3 transitions): Cyhalothrin 3 (469.0 / 452.0)"},
      {"t": 10.15, "v": 2890, "s": "XIC from 231128.wiff (sample 8) - 19-lambda 0,1ug/ml, +MRM (3 transitions): Cyhalothrin 3 (469.0 / 452.0)"},
      {"t": 10.20, "v": 2950, "s": "XIC from 231128.wiff (sample 8) - 19-lambda 0,1ug/ml, +MRM (3 transitions): Cyhalothrin 3 (469.0 / 452.0)"},
      {"t": 10.25, "v": 3000, "s": "XIC from 231128.wiff (sample 8) - 19-lambda 0,1ug/ml, +MRM (3 transitions): Cyhalothrin 3 (469.0 / 452.0)"},
      {"t": 10.30, "v": 3000, "s": "XIC from 231128.wiff (sample 8) - 19-lambda 0,1ug/ml, +MRM (3 transitions): Cyhalothrin 3 (469.0 / 452.0)"},
      {"t": 10.35, "v": 3050, "s": "XIC from 231128.wiff (sample 8) - 19-lambda 0,1ug/ml, +MRM (3 transitions): Cyhalothrin 3 (469.0 / 452.0)"},
      {"t": 10.39, "v": 3100, "s": "XIC from 231128.wiff (sample 8) - 19-lambda 0,1ug/ml, +MRM (3 transitions): Cyhalothrin 3 (469.0 / 452.0)"},
      {"t": 10.44, "v": 3400, "s": "XIC from 231128.wiff (sample 8) - 19-lambda 0,1ug/ml, +MRM (3 transitions): Cyhalothrin 3 (469.0 / 452.0)"},
      {"t": 10.48, "v": 3790, "s": "XIC from 231128.wiff (sample 8) - 19-lambda 0,1ug/ml, +MRM (3 transitions): Cyhalothrin 3 (469.0 / 452.0)"},
      {"t": 10.53, "v": 4600, "s": "XIC from 231128.wiff (sample 8) - 19-lambda 0,1ug/ml, +MRM (3 transitions): Cyhalothrin 3 (469.0 / 452.0)"},
      {"t": 10.59, "v": 5790, "s": "XIC from 231128.wiff (sample 8) - 19-lambda 0,1ug/ml, +MRM (3 transitions): Cyhalothrin 3 (469.0 / 452.0)"},
      {"t": 10.64, "v": 6700, "s": "XIC from 231128.wiff (sample 8) - 19-lambda 0,1ug/ml, +MRM (3 transitions): Cyhalothrin 3 (469.0 / 452.0)"},
      {"t": 10.68, "v": 7360, "s": "XIC from 231128.wiff (sample 8) - 19-lambda 0,1ug/ml, +MRM (3 transitions): Cyhalothrin 3 (469.0 / 452.0)"},
      {"t": 10.72, "v": 7700, "s": "XIC from 231128.wiff (sample 8) - 19-lambda 0,1ug/ml, +MRM (3 transitions): Cyhalothrin 3 (469.0 / 452.0)"},
      {"t": 10.75, "v": 7790, "s": "XIC from 231128.wiff (sample 8) - 19-lambda 0,1ug/ml, +MRM (3 transitions): Cyhalothrin 3 (469.0 / 452.0)"},
      {"t": 10.79, "v": 7490, "s": "XIC from 231128.wiff (sample 8) - 19-lambda 0,1ug/ml, +MRM (3 transitions): Cyhalothrin 3 (469.0 / 452.0)"},
      {"t": 10.83, "v": 6800, "s": "XIC from 231128.wiff (sample 8) - 19-lambda 0,1ug/ml, +MRM (3 transitions): Cyhalothrin 3 (469.0 / 452.0)"},
      {"t": 10.88, "v": 5790, "s": "XIC from 231128.wiff (sample 8) - 19-lambda 0,1ug/ml, +MRM (3 transitions): Cyhalothrin 3 (469.0 / 452.0)"},
      {"t": 10.94, "v": 4080, "s": "XIC from 231128.wiff (sample 8) - 19-lambda 0,1ug/ml, +MRM (3 transitions): Cyhalothrin 3 (469.0 / 452.0)"},
      {"t": 11.01, "v": 3100, "s": "XIC from 231128.wiff (sample 8) - 19-lambda 0,1ug/ml, +MRM (3 transitions): Cyhalothrin 3 (469.0 / 452.0)"},
      {"t": 11.06, "v": 2850, "s": "XIC from 231128.wiff (sample 8) - 19-lambda 0,1ug/ml, +MRM (3 transitions): Cyhalothrin 3 (469.0 / 452.0)"},
      {"t": 11.12, "v": 2720, "s": "XIC from 231128.wiff (sample 8) - 19-lambda 0,1ug/ml, +MRM (3 transitions): Cyhalothrin 3 (469.0 / 452.0)"},
      {"t": 11.16, "v": 2680, "s": "XIC from 231128.wiff (sample 8) - 19-lambda 0,1ug/ml, +MRM (3 transitions): Cyhalothrin 3 (469.0 / 452.0)"},
      {"t": 11.20, "v": 2600, "s": "XIC from 231128.wiff (sample 8) - 19-lambda 0,1ug/ml, +MRM (3 transitions): Cyhalothrin 3 (469.0 / 452.0)"},
      {"t": 11.24, "v": 2900, "s": "XIC from 231128.wiff (sample 8) - 19-lambda 0,1ug/ml, +MRM (3 transitions): Cyhalothrin 3 (469.0 / 452.0)"},
      {"t": 11.28, "v": 3230, "s": "XIC from 231128.wiff (sample 8) - 19-lambda 0,1ug/ml, +MRM (3 transitions): Cyhalothrin 3 (469.0 / 452.0)"},
      {"t": 11.33, "v": 3800, "s": "XIC from 231128.wiff (sample 8) - 19-lambda 0,1ug/ml, +MRM (3 transitions): Cyhalothrin 3 (469.0 / 452.0)"},
      {"t": 11.37, "v": 4380, "s": "XIC from 231128.wiff (sample 8) - 19-lambda 0,1ug/ml, +MRM (3 transitions): Cyhalothrin 3 (469.0 / 452.0)"},
      {"t": 11.43, "v": 5300, "s": "XIC from 231128.wiff (sample 8) - 19-lambda 0,1ug/ml, +MRM (3 transitions): Cyhalothrin 3 (469.0 / 452.0)"},
      {"t": 11.48, "v": 6080, "s": "XIC from 231128.wiff (sample 8) - 19-lambda 0,1ug/ml, +MRM (3 transitions): Cyhalothrin 3 (469.0 / 452.0)"},
      {"t": 11.53, "v": 7000, "s": "XIC from 231128.wiff (sample 8) - 19-lambda 0,1ug/ml, +MRM (3 transitions): Cyhalothrin 3 (469.0 / 452.0)"},
      {"t": 11.58, "v": 7800, "s": "XIC from 231128.wiff (sample 8) - 19-lambda 0,1ug/ml, +MRM (3 transitions): Cyhalothrin 3 (469.0 / 452.0)"},
      {"t": 11.62, "v": 8100, "s": "XIC from 231128.wiff (sample 8) - 19-lambda 0,1ug/ml, +MRM (3 transitions): Cyhalothrin 3 (469.0 / 452.0)"},
      {"t": 11.66, "v": 7600, "s": "XIC from 231128.wiff (sample 8) - 19-lambda 0,1ug/ml, +MRM (3 transitions): Cyhalothrin 3 (469.0 / 452.0)"},
      {"t": 11.72, "v": 6640, "s": "XIC from 231128.wiff (sample 8) - 19-lambda 0,1ug/ml, +MRM (3 transitions): Cyhalothrin 3 (469.0 / 452.0)"},
      {"t": 11.78, "v": 5400, "s": "XIC from 231128.wiff (sample 8) - 19-lambda 0,1ug/ml, +MRM (3 transitions): Cyhalothrin 3 (469.0 / 452.0)"},
      {"t": 11.85, "v": 4210, "s": "XIC from 231128.wiff (sample 8) - 19-lambda 0,1ug/ml, +MRM (3 transitions): Cyhalothrin 3 (469.0 / 452.0)"},
      {"t": 11.91, "v": 3600, "s": "XIC from 231128.wiff (sample 8) - 19-lambda 0,1ug/ml, +MRM (3 transitions): Cyhalothrin 3 (469.0 / 452.0)"},
      {"t": 11.97, "v": 3150, "s": "XIC from 231128.wiff (sample 8) - 19-lambda 0,1ug/ml, +MRM (3 transitions): Cyhalothrin 3 (469.0 / 452.0)"},
      {"t": 12.02, "v": 2900, "s": "XIC from 231128.wiff (sample 8) - 19-lambda 0,1ug/ml, +MRM (3 transitions): Cyhalothrin 3 (469.0 / 452.0)"},
      {"t": 12.07, "v": 2720, "s": "XIC from 231128.wiff (sample 8) - 19-lambda 0,1ug/ml, +MRM (3 transitions): Cyhalothrin 3 (469.0 / 452.0)"},
      {"t": 12.15, "v": 2650, "s": "XIC from 231128.wiff (sample 8) - 19-lambda 0,1ug/ml, +MRM (3 transitions): Cyhalothrin 3 (469.0 / 452.0)"},
      {"t": 12.23, "v": 2600, "s": "XIC from 231128.wiff (sample 8) - 19-lambda 0,1ug/ml, +MRM (3 transitions): Cyhalothrin 3 (469.0 / 452.0)"},
      {"t": 12.28, "v": 2500, "s": "XIC from 231128.wiff (sample 8) - 19-lambda 0,1ug/ml, +MRM (3 transitions): Cyhalothrin 3 (469.0 / 452.0)"},
      {"t": 12.32, "v": 2420, "s": "XIC from 231128.wiff (sample 8) - 19-lambda 0,1ug/ml, +MRM (3 transitions): Cyhalothrin 3 (469.0 / 452.0)"},
      {"t": 12.36, "v": 2380, "s": "XIC from 231128.wiff (sample 8) - 19-lambda 0,1ug/ml, +MRM (3 transitions): Cyhalothrin 3 (469.0 / 452.0)"},
      {"t": 12.40, "v": 2460, "s": "XIC from 231128.wiff (sample 8) - 19-lambda 0,1ug/ml, +MRM (3 transitions): Cyhalothrin 3 (469.0 / 452.0)"},
      {"t": 12.45, "v": 2370, "s": "XIC from 231128.wiff (sample 8) - 19-lambda 0,1ug/ml, +MRM (3 transitions): Cyhalothrin 3 (469.0 / 452.0)"},
      {"t": 12.50, "v": 2420, "s": "XIC from 231128.wiff (sample 8) - 19-lambda 0,1ug/ml, +MRM (3 transitions): Cyhalothrin 3 (469.0 / 452.0)"},
      {"t": 12.55, "v": 2400, "s": "XIC from 231128.wiff (sample 8) - 19-lambda 0,1ug/ml, +MRM (3 transitions): Cyhalothrin 3 (469.0 / 452.0)"},
      {"t": 12.60, "v": 2460, "s": "XIC from 231128.wiff (sample 8) - 19-lambda 0,1ug/ml, +MRM (3 transitions): Cyhalothrin 3 (469.0 / 452.0)"},
      {"t": 12.65, "v": 2420, "s": "XIC from 231128.wiff (sample 8) - 19-lambda 0,1ug/ml, +MRM (3 transitions): Cyhalothrin 3 (469.0 / 452.0)"},
      {"t": 12.70, "v": 2400, "s": "XIC from 231128.wiff (sample 8) - 19-lambda 0,1ug/ml, +MRM (3 transitions): Cyhalothrin 3 (469.0 / 452.0)"},
      {"t": 12.75, "v": 2470, "s": "XIC from 231128.wiff (sample 8) - 19-lambda 0,1ug/ml, +MRM (3 transitions): Cyhalothrin 3 (469.0 / 452.0)"},
      {"t": 12.80, "v": 2430, "s": "XIC from 231128.wiff (sample 8) - 19-lambda 0,1ug/ml, +MRM (3 transitions): Cyhalothrin 3 (469.0 / 452.0)"},
      {"t": 12.85, "v": 2440, "s": "XIC from 231128.wiff (sample 8) - 19-lambda 0,1ug/ml, +MRM (3 transitions): Cyhalothrin 3 (469.0 / 452.0)"},
      {"t": 12.90, "v": 2410, "s": "XIC from 231128.wiff (sample 8) - 19-lambda 0,1ug/ml, +MRM (3 transitions): Cyhalothrin 3 (469.0 / 452.0)"},
      {"t": 12.95, "v": 2450, "s": "XIC from 231128.wiff (sample 8) - 19-lambda 0,1ug/ml, +MRM (3 transitions): Cyhalothrin 3 (469.0 / 452.0)"},
      {"t": 12.98, "v": 2430, "s": "XIC from 231128.wiff (sample 8) - 19-lambda 0,1ug/ml, +MRM (3 transitions): Cyhalothrin 3 (469.0 / 452.0)"},
      {"t": 13.01, "v": 300, "s": "XIC from 231128.wiff (sample 8) - 19-lambda 0,1ug/ml, +MRM (3 transitions): Cyhalothrin 3 (469.0 / 452.0)"},
      {"t": 13.05, "v": 150, "s": "XIC from 231128.wiff (sample 8) - 19-lambda 0,1ug/ml, +MRM (3 transitions): Cyhalothrin 3 (469.0 / 452.0)"},
      {"t": 13.10, "v": 120, "s": "XIC from 231128.wiff (sample 8) - 19-lambda 0,1ug/ml, +MRM (3 transitions): Cyhalothrin 3 (469.0 / 452.0)"},
      {"t": 13.30, "v": 110, "s": "XIC from 231128.wiff (sample 8) - 19-lambda 0,1ug/ml, +MRM (3 transitions): Cyhalothrin 3 (469.0 / 452.0)"},
      {"t": 13.50, "v": 100, "s": "XIC from 231128.wiff (sample 8) - 19-lambda 0,1ug/ml, +MRM (3 transitions): Cyhalothrin 3 (469.0 / 452.0)"},
      {"t": 13.55, "v": 30, "s": "XIC from 231128.wiff (sample 8) - 19-lambda 0,1ug/ml, +MRM (3 transitions): Cyhalothrin 3 (469.0 / 452.0)"},
      {"t": 13.60, "v": 0, "s": "XIC from 231128.wiff (sample 8) - 19-lambda 0,1ug/ml, +MRM (3 transitions): Cyhalothrin 3 (469.0 / 452.0)"},
      {"t": 14.10, "v": 0, "s": "XIC from 231128.wiff (sample 8) - 19-lambda 0,1ug/ml, +MRM (3 transitions): Cyhalothrin 3 (469.0 / 452.0)"}
    ],
    "peaks": [
      {"t": 10.76, "v": 18700, "label": "10.76", "t2": 10.76, "v2": 18700},
      {"t": 11.64, "v": 19200, "label": "11.64", "t2": 11.745, "v2": 18650}
    ]
  },
  "layer": [
    {
      "data": {"name": "traces"},
      "transform": [
        {"filter": "indexof(datum.s, 'Cyhalothrin 1') >= 0"},
        {"filter": {"field": "t", "range": [10.10, 11.16]}}
      ],
      "mark": {"type": "area", "color": "#7878f4", "opacity": 1, "clip": true},
      "encoding": {
        "x": {"field": "t", "type": "quantitative"},
        "y": {"field": "v", "type": "quantitative"},
        "y2": {"datum": 420}
      }
    },
    {
      "data": {"name": "traces"},
      "transform": [
        {"filter": "indexof(datum.s, 'Cyhalothrin 1') >= 0"},
        {"filter": {"field": "t", "range": [11.16, 12.36]}}
      ],
      "mark": {"type": "area", "color": "#dcdcfa", "opacity": 1, "clip": true},
      "encoding": {
        "x": {"field": "t", "type": "quantitative"},
        "y": {"field": "v", "type": "quantitative"},
        "y2": {"datum": 330}
      }
    },
    {
      "data": {"name": "traces"},
      "mark": {"type": "line", "strokeWidth": 1, "clip": true},
      "encoding": {
        "x": {
          "field": "t", "type": "quantitative",
          "scale": {"domain": [7.0, 14.1], "nice": false, "zero": false},
          "axis": {
            "title": "Time, min",
            "values": [7, 7.5, 8, 8.5, 9, 9.5, 10, 10.5, 11, 11.5, 12, 12.5, 13, 13.5, 14],
            "labelExpr": "(datum.value % 1 == 0 && datum.value >= 8 && datum.value <= 13) ? datum.value : ''",
            "labelFontSize": 17,
            "titleFontSize": 18,
            "tickSize": 4,
            "labelPadding": 3,
            "titleY": 25,
            "titleBaseline": "top",
            "labelFlush": false,
            "labelOverlap": false
          }
        },
        "y": {
          "field": "v", "type": "quantitative",
          "scale": {"domain": [0, 19230], "nice": false},
          "axis": {
            "title": "Intensity, cps",
            "values": [0, 1000, 2000, 3000, 4000, 5000, 6000, 7000, 8000, 9000, 10000, 11000, 12000, 13000, 14000, 15000, 16000, 17000, 18000, 19000],
            "labelExpr": "(datum.value % 2000 == 0) ? format(datum.value, 'd') : ''",
            "labelFontSize": 17,
            "titleFontSize": 18,
            "tickSize": 4,
            "labelPadding": 5,
            "titleX": -95,
            "titleBaseline": "bottom",
            "labelOverlap": false
          }
        },
        "color": {
          "field": "s", "type": "nominal",
          "scale": {
            "domain": [
              "XIC from 231128.wiff (sample 8) - 19-lambda 0,1ug/ml, +MRM (3 transitions): Cyhalothrin 1 (467.0 / 225.0)",
              "XIC from 231128.wiff (sample 8) - 19-lambda 0,1ug/ml, +MRM (3 transitions): Cyhalothrin 2 (467.0 / 450.0)",
              "XIC from 231128.wiff (sample 8) - 19-lambda 0,1ug/ml, +MRM (3 transitions): Cyhalothrin 3 (469.0 / 452.0)"
            ],
            "range": ["#2222ff", "#ff33ff", "#ff5a28"]
          },
          "legend": {
            "title": null,
            "orient": "none",
            "legendX": -107,
            "legendY": -72,
            "symbolType": "circle",
            "symbolSize": 200,
            "symbolStrokeWidth": 1,
            "symbolStrokeColor": "#555555",
            "labelFont": "Liberation Sans",
            "labelFontSize": 17,
            "labelColor": "black",
            "labelLimit": 1000,
            "labelOffset": 2,
            "rowPadding": 2,
            "encode": {
              "symbols": {"update": {"fill": {"scale": "color", "field": "value"}, "stroke": {"value": "#555555"}, "fillOpacity": {"value": 1}}},
              "labels": {"update": {"fontWeight": {"signal": "datum.index === 0 ? 'bold' : 'normal'"}}}
            }
          }
        }
      }
    },
    {
      "data": {"name": "peaks"},
      "mark": {"type": "rule", "color": "#808080", "strokeWidth": 1},
      "encoding": {
        "x": {"field": "t", "type": "quantitative"},
        "y": {"field": "v", "type": "quantitative"},
        "x2": {"field": "t2"},
        "y2": {"field": "v2"}
      }
    },
    {
      "data": {"name": "peaks"},
      "transform": [{"filter": "datum.label == '10.76'"}],
      "mark": {"type": "text", "font": "Liberation Sans", "fontSize": 17, "color": "black", "align": "center", "baseline": "bottom", "dy": -2},
      "encoding": {
        "x": {"field": "t", "type": "quantitative"},
        "y": {"field": "v", "type": "quantitative"},
        "text": {"field": "label"}
      }
    },
    {
      "data": {"name": "peaks"},
      "transform": [{"filter": "datum.label == '11.64'"}],
      "mark": {"type": "text", "font": "Liberation Sans", "fontSize": 17, "color": "black", "align": "left", "baseline": "middle", "dx": 12, "dy": 19},
      "encoding": {
        "x": {"field": "t", "type": "quantitative"},
        "y": {"field": "v", "type": "quantitative"},
        "text": {"field": "label"}
      }
    }
  ]
}
